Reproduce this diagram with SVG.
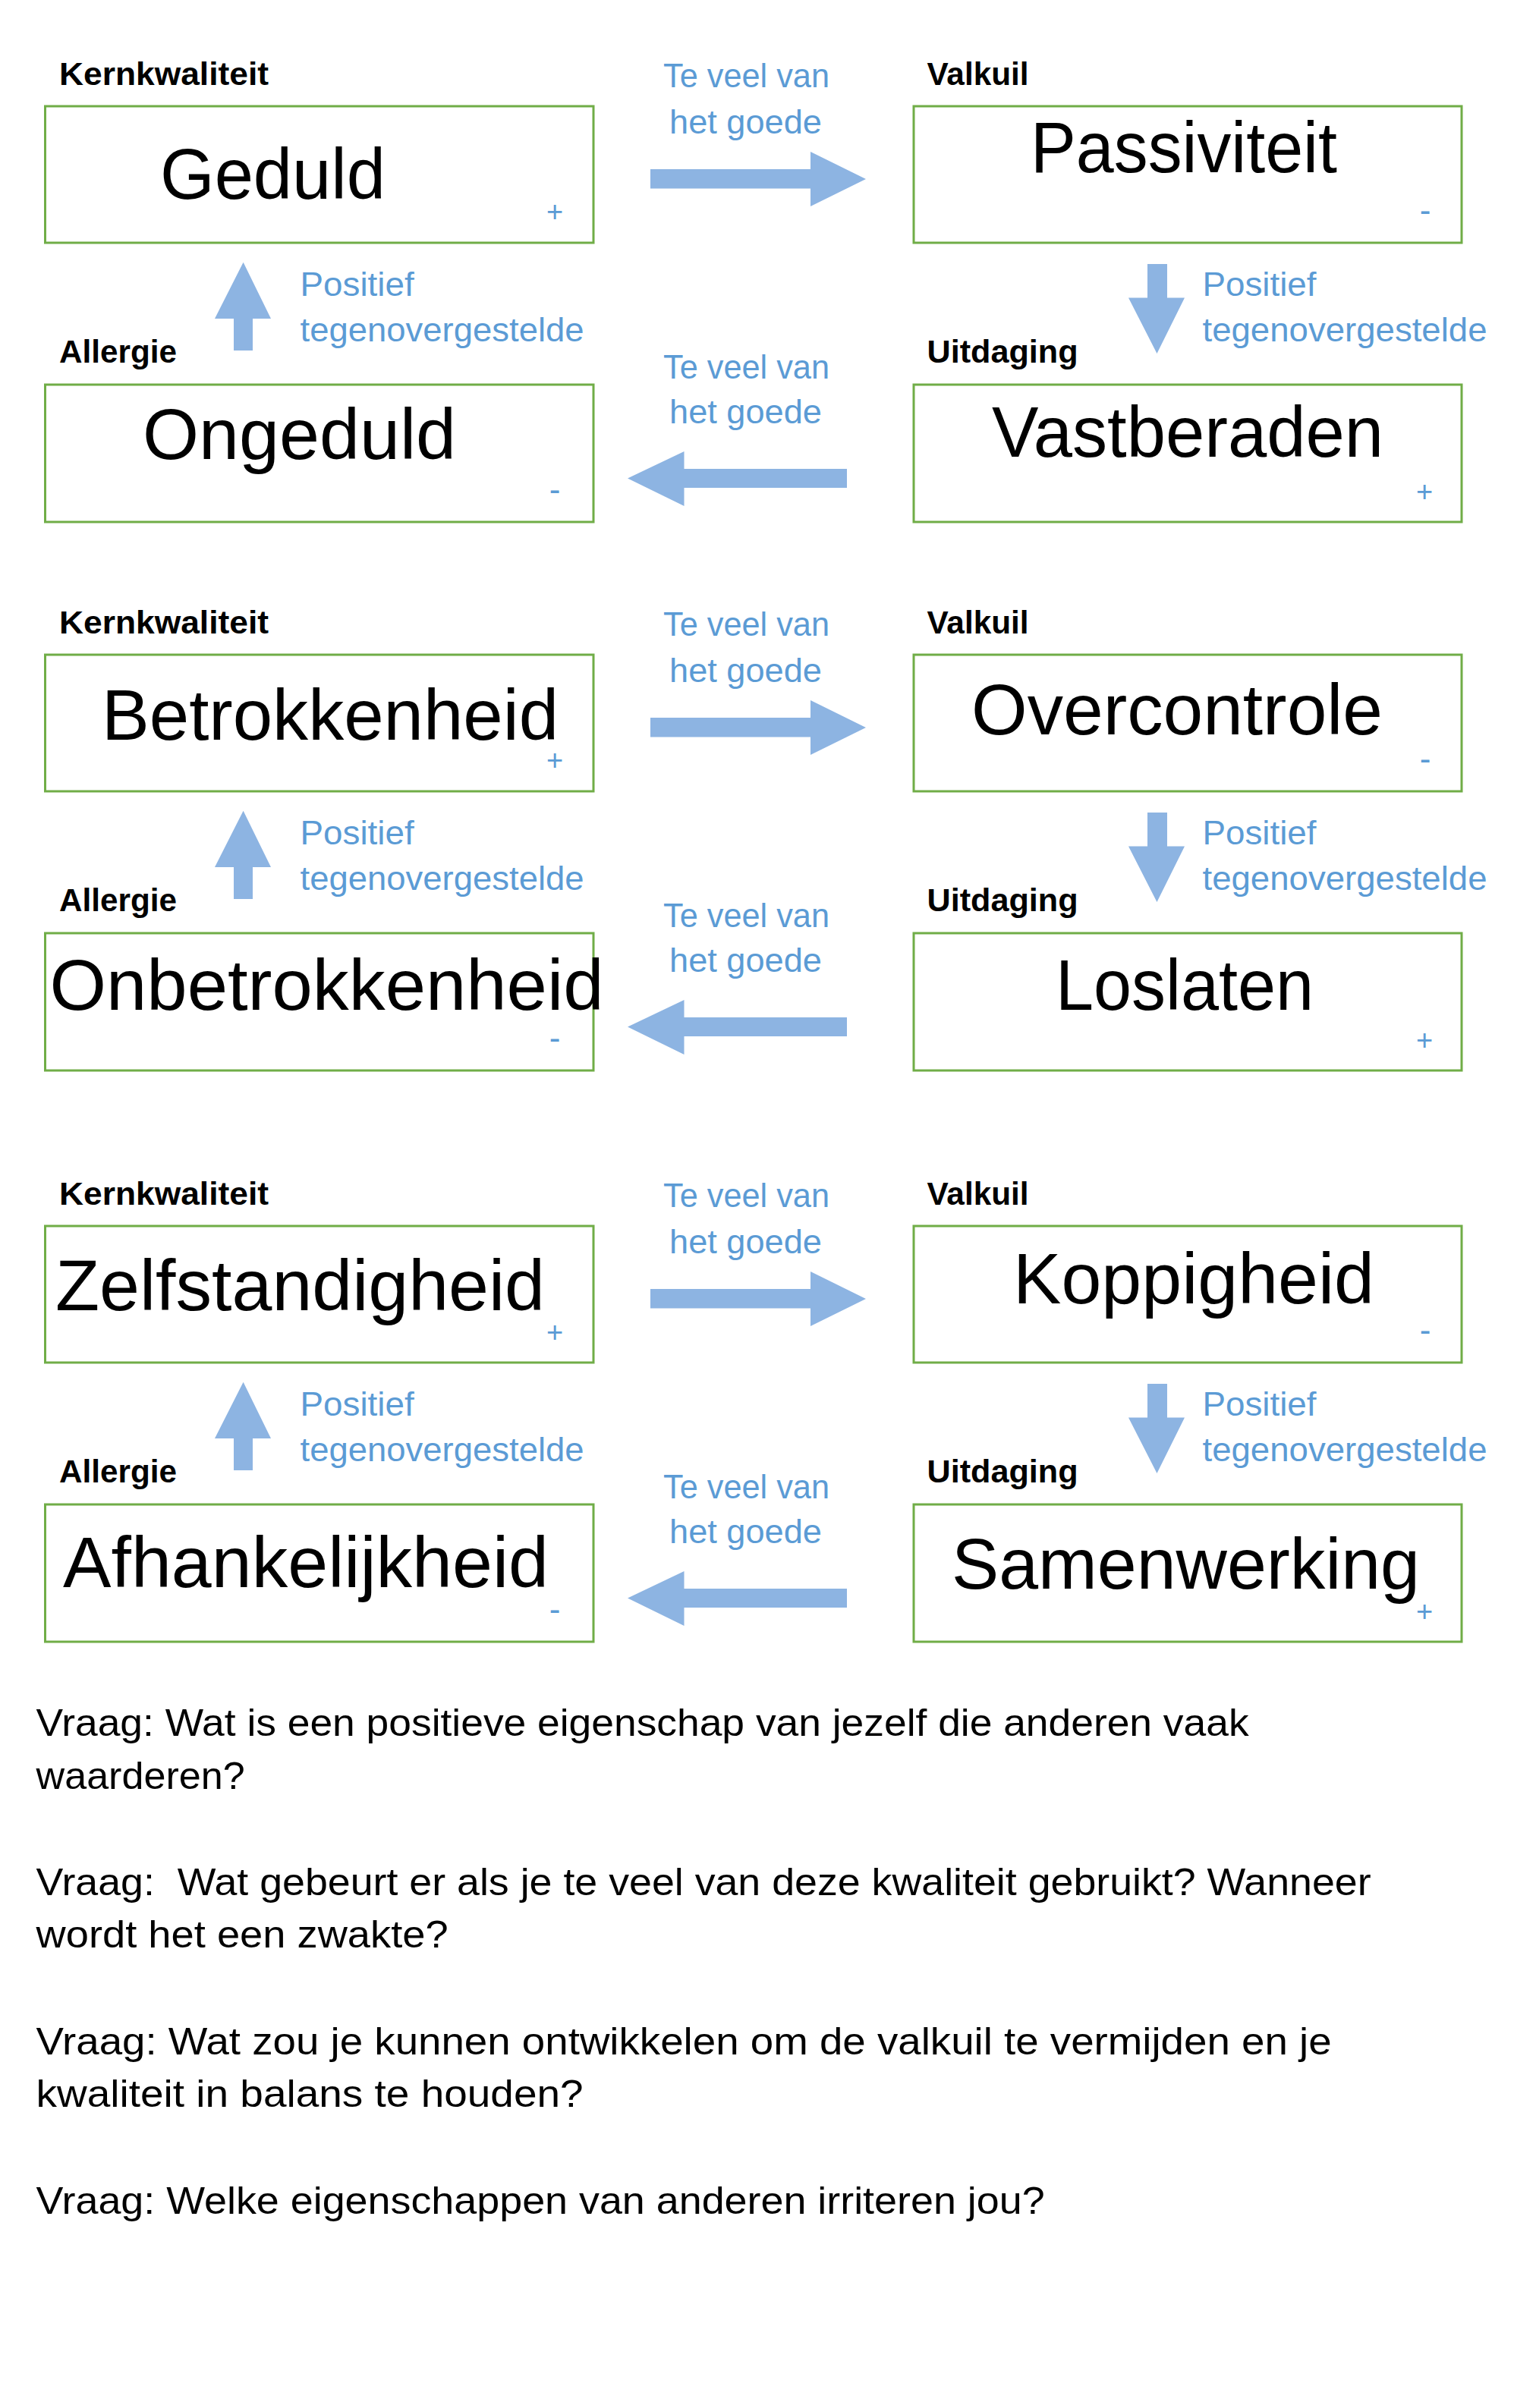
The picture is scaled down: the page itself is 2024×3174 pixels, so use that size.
<svg xmlns="http://www.w3.org/2000/svg" xmlns:xlink="http://www.w3.org/1999/xlink" width="2024" height="3174" viewBox="0 0 2024 3174">
<style>
.box{fill:#fff;stroke:#70AD47;stroke-width:3}
.word{font-family:"Liberation Sans",Arial,sans-serif;font-size:94px;fill:#000}
.cat{font-family:"Liberation Sans",Arial,sans-serif;font-weight:bold;font-size:43px;fill:#000}
.blue{font-family:"Liberation Sans",Arial,sans-serif;font-size:45px;fill:#5B9BD5}
.mark{font-family:"Liberation Sans",Arial,sans-serif;font-size:38px;fill:#5B9BD5;text-anchor:middle}
.minus{font-family:"Liberation Sans",Arial,sans-serif;font-size:44px;fill:#5B9BD5;text-anchor:middle}
.arrow{fill:#8DB4E2}
.q{font-family:"Liberation Sans",Arial,sans-serif;font-size:50px;fill:#000}
</style>
<defs>
<path id="arrUp" class="arrow" d="M320.6,345.7 L357,420 L333,420 L333,462 L308,462 L308,420 L283,420 Z"/>
<path id="arrRight" class="arrow" d="M857,223 L1068,223 L1068,200 L1141,236 L1068,272 L1068,248.6 L857,248.6 Z"/>
<path id="arrDown" class="arrow" d="M1512,348 L1538,348 L1538,392.6 L1561,392.6 L1524.5,466 L1487,392.6 L1512,392.6 Z"/>
<path id="arrLeft" class="arrow" d="M827,630.6 L901.5,595 L901.5,618 L1116,618 L1116,643 L901.5,643 L901.5,667 Z"/>
</defs>
<rect width="2024" height="3174" fill="#fff"/>

<!-- Block 1 -->
<g id="node-geduld">
<text class="cat" x="78" y="112" textLength="276" lengthAdjust="spacingAndGlyphs">Kernkwaliteit</text>
<rect class="box" x="59.5" y="140" width="722.5" height="180"/>
<text class="word" x="211" y="262" textLength="297" lengthAdjust="spacingAndGlyphs">Geduld</text>
<text class="mark" x="731" y="292">+</text>
</g>
<g id="node-ongeduld">
<text class="cat" x="78" y="478" textLength="155" lengthAdjust="spacingAndGlyphs">Allergie</text>
<rect class="box" x="59.5" y="507" width="722.5" height="181"/>
<text class="word" x="188" y="605" textLength="413" lengthAdjust="spacingAndGlyphs">Ongeduld</text>
<text class="minus" x="731" y="660">-</text>
</g>
<g id="node-passiviteit">
<text class="cat" x="1221.5" y="112" textLength="134" lengthAdjust="spacingAndGlyphs">Valkuil</text>
<rect class="box" x="1204" y="140" width="722" height="180"/>
<text class="word" x="1358" y="227" textLength="404" lengthAdjust="spacingAndGlyphs">Passiviteit</text>
<text class="minus" x="1878" y="292">-</text>
</g>
<g id="node-vastberaden">
<text class="cat" x="1221.5" y="478" textLength="199" lengthAdjust="spacingAndGlyphs">Uitdaging</text>
<rect class="box" x="1204" y="507" width="722" height="181"/>
<text class="word" x="1307" y="602" textLength="516" lengthAdjust="spacingAndGlyphs">Vastberaden</text>
<text class="mark" x="1877" y="661">+</text>
</g>

<!-- Block 2 -->
<g id="node-betrokkenheid">
<text class="cat" x="78" y="835" textLength="276" lengthAdjust="spacingAndGlyphs">Kernkwaliteit</text>
<rect class="box" x="59.5" y="863" width="722.5" height="180"/>
<text class="word" x="134" y="975" textLength="602" lengthAdjust="spacingAndGlyphs">Betrokkenheid</text>
<text class="mark" x="731" y="1015">+</text>
</g>
<g id="node-onbetrokkenheid">
<text class="cat" x="78" y="1201" textLength="155" lengthAdjust="spacingAndGlyphs">Allergie</text>
<rect class="box" x="59.5" y="1230" width="722.5" height="181"/>
<text class="word" x="65.5" y="1331" textLength="730" lengthAdjust="spacingAndGlyphs">Onbetrokkenheid</text>
<text class="minus" x="731" y="1383">-</text>
</g>
<g id="node-overcontrole">
<text class="cat" x="1221.5" y="835" textLength="134" lengthAdjust="spacingAndGlyphs">Valkuil</text>
<rect class="box" x="1204" y="863" width="722" height="180"/>
<text class="word" x="1280" y="968" textLength="542" lengthAdjust="spacingAndGlyphs">Overcontrole</text>
<text class="minus" x="1878" y="1015">-</text>
</g>
<g id="node-loslaten">
<text class="cat" x="1221.5" y="1201" textLength="199" lengthAdjust="spacingAndGlyphs">Uitdaging</text>
<rect class="box" x="1204" y="1230" width="722" height="181"/>
<text class="word" x="1391" y="1331" textLength="340" lengthAdjust="spacingAndGlyphs">Loslaten</text>
<text class="mark" x="1877" y="1384">+</text>
</g>

<!-- Block 3 -->
<g id="node-zelfstandigheid">
<text class="cat" x="78" y="1588" textLength="276" lengthAdjust="spacingAndGlyphs">Kernkwaliteit</text>
<rect class="box" x="59.5" y="1616" width="722.5" height="180"/>
<text class="word" x="73" y="1727" textLength="645" lengthAdjust="spacingAndGlyphs">Zelfstandigheid</text>
<text class="mark" x="731" y="1769">+</text>
</g>
<g id="node-afhankelijkheid">
<text class="cat" x="78" y="1954" textLength="155" lengthAdjust="spacingAndGlyphs">Allergie</text>
<rect class="box" x="59.5" y="1983" width="722.5" height="181"/>
<text class="word" x="83" y="2092" textLength="640" lengthAdjust="spacingAndGlyphs">Afhankelijkheid</text>
<text class="minus" x="731" y="2136">-</text>
</g>
<g id="node-koppigheid">
<text class="cat" x="1221.5" y="1588" textLength="134" lengthAdjust="spacingAndGlyphs">Valkuil</text>
<rect class="box" x="1204" y="1616" width="722" height="180"/>
<text class="word" x="1335" y="1718" textLength="476" lengthAdjust="spacingAndGlyphs">Koppigheid</text>
<text class="minus" x="1878" y="1768">-</text>
</g>
<g id="node-samenwerking">
<text class="cat" x="1221.5" y="1954" textLength="199" lengthAdjust="spacingAndGlyphs">Uitdaging</text>
<rect class="box" x="1204" y="1983" width="722" height="181"/>
<text class="word" x="1254" y="2094" textLength="617" lengthAdjust="spacingAndGlyphs">Samenwerking</text>
<text class="mark" x="1877" y="2137">+</text>
</g>

<g id="connectors">
<g id="conn-block1">
<use xlink:href="#arrRight" href="#arrRight"/>
<use xlink:href="#arrDown" href="#arrDown"/>
<use xlink:href="#arrLeft" href="#arrLeft"/>
<use xlink:href="#arrUp" href="#arrUp"/>
<text class="blue" x="874" y="115" textLength="219" lengthAdjust="spacingAndGlyphs">Te veel van</text>
<text class="blue" x="882" y="176" textLength="201" lengthAdjust="spacingAndGlyphs">het goede</text>
<text class="blue" x="874" y="499" textLength="219" lengthAdjust="spacingAndGlyphs">Te veel van</text>
<text class="blue" x="882" y="558" textLength="201" lengthAdjust="spacingAndGlyphs">het goede</text>
<text class="blue" x="395.6" y="390" textLength="150" lengthAdjust="spacingAndGlyphs">Positief</text>
<text class="blue" x="395.6" y="450" textLength="374" lengthAdjust="spacingAndGlyphs">tegenovergestelde</text>
<text class="blue" x="1584.5" y="390" textLength="150" lengthAdjust="spacingAndGlyphs">Positief</text>
<text class="blue" x="1584.5" y="450" textLength="375" lengthAdjust="spacingAndGlyphs">tegenovergestelde</text>
</g>
<g id="conn-block2" transform="translate(0,723)">
<use xlink:href="#arrRight" href="#arrRight"/>
<use xlink:href="#arrDown" href="#arrDown"/>
<use xlink:href="#arrLeft" href="#arrLeft"/>
<use xlink:href="#arrUp" href="#arrUp"/>
<text class="blue" x="874" y="115" textLength="219" lengthAdjust="spacingAndGlyphs">Te veel van</text>
<text class="blue" x="882" y="176" textLength="201" lengthAdjust="spacingAndGlyphs">het goede</text>
<text class="blue" x="874" y="499" textLength="219" lengthAdjust="spacingAndGlyphs">Te veel van</text>
<text class="blue" x="882" y="558" textLength="201" lengthAdjust="spacingAndGlyphs">het goede</text>
<text class="blue" x="395.6" y="390" textLength="150" lengthAdjust="spacingAndGlyphs">Positief</text>
<text class="blue" x="395.6" y="450" textLength="374" lengthAdjust="spacingAndGlyphs">tegenovergestelde</text>
<text class="blue" x="1584.5" y="390" textLength="150" lengthAdjust="spacingAndGlyphs">Positief</text>
<text class="blue" x="1584.5" y="450" textLength="375" lengthAdjust="spacingAndGlyphs">tegenovergestelde</text>
</g>
<g id="conn-block3" transform="translate(0,1476)">
<use xlink:href="#arrRight" href="#arrRight"/>
<use xlink:href="#arrDown" href="#arrDown"/>
<use xlink:href="#arrLeft" href="#arrLeft"/>
<use xlink:href="#arrUp" href="#arrUp"/>
<text class="blue" x="874" y="115" textLength="219" lengthAdjust="spacingAndGlyphs">Te veel van</text>
<text class="blue" x="882" y="176" textLength="201" lengthAdjust="spacingAndGlyphs">het goede</text>
<text class="blue" x="874" y="499" textLength="219" lengthAdjust="spacingAndGlyphs">Te veel van</text>
<text class="blue" x="882" y="558" textLength="201" lengthAdjust="spacingAndGlyphs">het goede</text>
<text class="blue" x="395.6" y="390" textLength="150" lengthAdjust="spacingAndGlyphs">Positief</text>
<text class="blue" x="395.6" y="450" textLength="374" lengthAdjust="spacingAndGlyphs">tegenovergestelde</text>
<text class="blue" x="1584.5" y="390" textLength="150" lengthAdjust="spacingAndGlyphs">Positief</text>
<text class="blue" x="1584.5" y="450" textLength="375" lengthAdjust="spacingAndGlyphs">tegenovergestelde</text>
</g>
</g>

<g id="questions">
<text class="q" x="47.6" y="2288" textLength="1598" lengthAdjust="spacingAndGlyphs">Vraag: Wat is een positieve eigenschap van jezelf die anderen vaak</text>
<text class="q" x="47.6" y="2358" textLength="275" lengthAdjust="spacingAndGlyphs">waarderen?</text>
<text class="q" x="47.6" y="2498" textLength="1759" lengthAdjust="spacingAndGlyphs">Vraag:&#160; Wat gebeurt er als je te veel van deze kwaliteit gebruikt? Wanneer</text>
<text class="q" x="47.6" y="2567" textLength="543" lengthAdjust="spacingAndGlyphs">wordt het een zwakte?</text>
<text class="q" x="47.6" y="2708" textLength="1707" lengthAdjust="spacingAndGlyphs">Vraag: Wat zou je kunnen ontwikkelen om de valkuil te vermijden en je</text>
<text class="q" x="47.6" y="2777" textLength="721" lengthAdjust="spacingAndGlyphs">kwaliteit in balans te houden?</text>
<text class="q" x="47.6" y="2917.5" textLength="1329" lengthAdjust="spacingAndGlyphs">Vraag: Welke eigenschappen van anderen irriteren jou?</text>
</g>
</svg>
